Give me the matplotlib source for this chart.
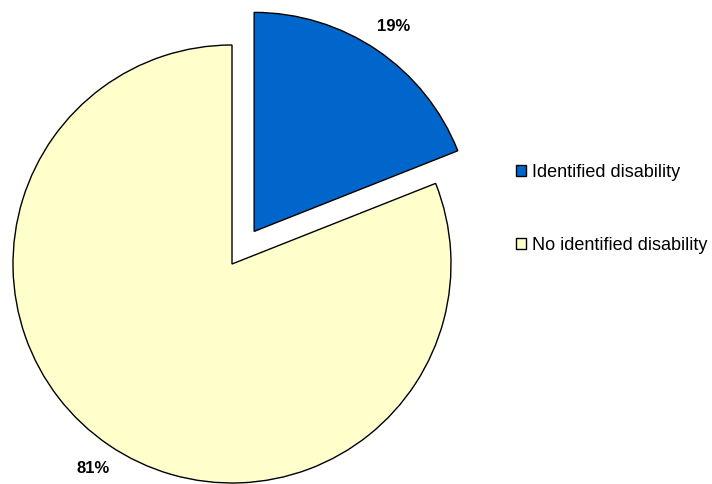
import matplotlib.pyplot as plt

labels = ['Identified disability', 'No identified disability']
shares = [19, 81]
colors = ['#0066CC', '#FFFFCC']
explode = [0.18, 0]

plt.rcParams['font.family'] = ['Liberation Sans', 'DejaVu Sans']

fig = plt.figure(figsize=(7.12, 4.84), dpi=100)
ax = fig.add_axes([0, 0, 1, 1])

# pie centre at (232, 264) px, radius 219 px
r = 219.0
cx, cy = 232.0, 484 - 264.0

wedges, texts, autotexts = ax.pie(
    shares, colors=colors, explode=explode, startangle=90, counterclock=False,
    autopct='%d%%', pctdistance=1.13, labeldistance=None,
    wedgeprops=dict(edgecolor='black', linewidth=1.0),
    textprops=dict(fontsize=12, fontweight='bold', color='black'),
    frame=True)
ax.set_xlim(-cx / r, (712 - cx) / r)
ax.set_ylim(-cy / r, (484 - cy) / r)
ax.set_aspect('auto')
ax.axis('off')

leg = fig.legend(wedges, labels, loc='center left',
                 bbox_to_anchor=(500 / 712, 1 - 209 / 484),
                 frameon=False, fontsize=13, labelspacing=3.1,
                 handlelength=0.55, handleheight=0.55, handletextpad=0.3)
for h in leg.legend_handles:
    h.set_linewidth(1.0)

fig.savefig('out.png', dpi=100)
